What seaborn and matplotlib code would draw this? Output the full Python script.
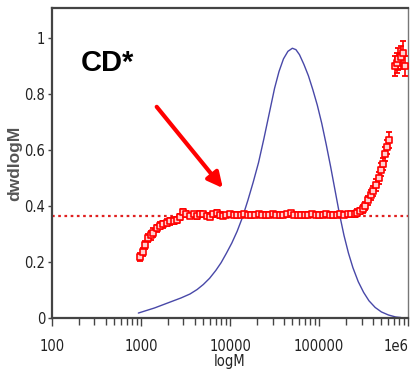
import numpy as np
import pandas as pd
import matplotlib
matplotlib.use("Agg")
import matplotlib.pyplot as plt
from matplotlib import font_manager
import matplotlib.transforms as mtransforms
import seaborn as sns
from matplotlib.ticker import FixedLocator, LogLocator, NullFormatter

# Blue distribution curve (logM, dw/dlogM)
blue_logM = [2.97, 3.05, 3.15, 3.25, 3.35, 3.45, 3.55, 3.63, 3.70, 3.77, 3.84, 3.90, 3.96,
             4.02, 4.08, 4.14, 4.20, 4.26, 4.32, 4.38, 4.44, 4.50, 4.55, 4.60, 4.65, 4.70,
             4.74, 4.78, 4.83, 4.88, 4.93, 4.98, 5.03, 5.08, 5.13, 5.18, 5.23, 5.28, 5.33,
             5.38, 5.44, 5.50, 5.56, 5.63, 5.70, 5.78, 5.86, 5.92]
blue_w = [0.018, 0.026, 0.036, 0.048, 0.060, 0.072, 0.086, 0.102, 0.120, 0.142, 0.170, 0.198, 0.232,
          0.268, 0.310, 0.360, 0.420, 0.485, 0.555, 0.640, 0.730, 0.820, 0.880, 0.925, 0.952, 0.963,
          0.958, 0.940, 0.905, 0.865, 0.815, 0.760, 0.695, 0.620, 0.540, 0.455, 0.370, 0.295, 0.232,
          0.180, 0.130, 0.092, 0.062, 0.038, 0.022, 0.011, 0.004, 0.002]

# Red measured points with error bars
red_logM = [2.99, 3.02, 3.05, 3.08, 3.11, 3.14, 3.18, 3.21, 3.25, 3.29, 3.33, 3.37, 3.40,
            3.44, 3.47, 3.51, 3.55, 3.59, 3.63, 3.66, 3.70, 3.74, 3.78, 3.81, 3.85, 3.89,
            3.92, 3.96, 4.00, 4.04, 4.08, 4.12, 4.16, 4.20, 4.24, 4.28, 4.32, 4.36, 4.40,
            4.44, 4.48, 4.52, 4.56, 4.60, 4.64, 4.68, 4.72, 4.76, 4.80, 4.84, 4.88, 4.92,
            4.96, 5.00, 5.04, 5.08, 5.12, 5.16, 5.20, 5.24, 5.28, 5.32, 5.36, 5.40, 5.43,
            5.46, 5.49, 5.52, 5.55, 5.58, 5.61, 5.64, 5.67, 5.70, 5.72, 5.74, 5.76, 5.78,
            5.85, 5.87, 5.89, 5.92, 5.94, 5.96]
red_w = [0.218, 0.236, 0.260, 0.285, 0.295, 0.305, 0.320, 0.330, 0.335, 0.340, 0.345, 0.348, 0.350,
         0.360, 0.378, 0.372, 0.366, 0.370, 0.364, 0.372, 0.370, 0.366, 0.362, 0.370, 0.375, 0.368,
         0.366, 0.368, 0.370, 0.368, 0.369, 0.368, 0.370, 0.369, 0.368, 0.369, 0.370, 0.368, 0.369,
         0.368, 0.370, 0.369, 0.368, 0.369, 0.370, 0.374, 0.369, 0.368, 0.369, 0.368, 0.369, 0.370,
         0.369, 0.368, 0.369, 0.370, 0.369, 0.368, 0.369, 0.370, 0.369, 0.370, 0.370, 0.372, 0.376,
         0.382, 0.390, 0.400, 0.420, 0.440, 0.455, 0.475, 0.500, 0.530, 0.550, 0.585, 0.610, 0.635,
         0.900, 0.910, 0.925, 0.930, 0.945, 0.900]
red_err = [0.015, 0.015, 0.015, 0.015, 0.015, 0.015, 0.012, 0.012, 0.012, 0.012, 0.012, 0.012, 0.010,
           0.010, 0.010, 0.010, 0.010, 0.010, 0.010, 0.010, 0.010, 0.010, 0.010, 0.010, 0.010, 0.010,
           0.008, 0.008, 0.008, 0.008, 0.008, 0.008, 0.008, 0.008, 0.008, 0.008, 0.008, 0.008, 0.008,
           0.008, 0.008, 0.008, 0.008, 0.008, 0.008, 0.008, 0.008, 0.008, 0.008, 0.008, 0.008, 0.008,
           0.008, 0.008, 0.008, 0.008, 0.008, 0.008, 0.008, 0.008, 0.008, 0.008, 0.010, 0.010, 0.012,
           0.012, 0.014, 0.015, 0.016, 0.018, 0.018, 0.020, 0.020, 0.022, 0.022, 0.024, 0.026, 0.028,
           0.035, 0.035, 0.040, 0.040, 0.045, 0.035]

ref_level = 0.365
x_ticks = [100, 1000, 10000, 100000, 1000000]
x_tick_labels = ["100", "1000", "10000", "100000", "1e6"]
y_ticks = [0, 0.2, 0.4, 0.6, 0.8, 1.0]
y_tick_labels = ["0", "0.2", "0.4", "0.6", "0.8", "1"]

sns.set_style("white")
plt.rcParams['font.family'] = ['Liberation Sans', 'DejaVu Sans']

# pick a narrow font file for the tick labels if one is installed
narrow_path = None
for f in font_manager.fontManager.ttflist:
    base = f.fname.split("/")[-1]
    if ("Narrow" in base or "Condensed" in base) and not any(
            k in base for k in ("Bold", "Italic", "Oblique")):
        if narrow_path is None or "Liberation" in base:
            narrow_path = f.fname
if narrow_path is not None:
    tick_font = font_manager.FontProperties(fname=narrow_path, size=10.5)
else:
    tick_font = font_manager.FontProperties(family="Liberation Sans", size=10)

fig = plt.figure(figsize=(4.16, 3.76), dpi=100)
ax = fig.add_axes([0.125, 0.154, 0.856, 0.825])

blue_df = pd.DataFrame({"M": 10 ** np.array(blue_logM), "w": blue_w})
sns.lineplot(data=blue_df, x="M", y="w", ax=ax, color="#4848a8", lw=1.0)

red_M = 10 ** np.array(red_logM)
ax.axhline(ref_level, color="#e02020", ls=(0, (1.2, 1.6)), lw=1.6, zorder=1)
ax.errorbar(red_M, red_w, yerr=red_err, fmt="none", ecolor="red", elinewidth=1.2,
            capsize=2.5, capthick=1.3, zorder=3)
red_df = pd.DataFrame({"M": red_M, "w": red_w})
sns.scatterplot(data=red_df, x="M", y="w", ax=ax, color="#ffd0d0", marker="s", s=16,
                edgecolor="red", linewidth=1.2, zorder=4)

ax.set_xscale("log")
ax.set_xlim(100, 1e6)
ax.set_ylim(0, 1.107)
ax.xaxis.set_major_locator(FixedLocator(x_ticks))
ax.set_xticklabels(x_tick_labels)
ax.xaxis.set_minor_locator(LogLocator(base=10, subs=np.arange(2, 10)))
ax.xaxis.set_minor_formatter(NullFormatter())
ax.set_yticks(y_ticks)
ax.set_yticklabels(y_tick_labels)
for lab in ax.get_xticklabels() + ax.get_yticklabels():
    lab.set_fontproperties(tick_font)
    lab.set_color("#222222")
last = ax.get_xticklabels()[-1]
last.set_ha("right")
last.set_transform(last.get_transform() + mtransforms.ScaledTranslation(5 / 100, 0, fig.dpi_scale_trans))

ax.tick_params(axis="both", which="both", bottom=True, left=True, top=False, right=False)
ax.tick_params(axis="x", which="major", direction="out", length=6, width=1, color="#444444", pad=9)
ax.tick_params(axis="x", which="minor", direction="out", length=5, width=1, color="#444444")
ax.tick_params(axis="y", which="major", direction="out", length=3, width=1, color="#444444", pad=2)

for side in ["left", "bottom", "top"]:
    ax.spines[side].set_color("#444444")
    ax.spines[side].set_linewidth(1.6)
ax.spines["right"].set_color("#777777")
ax.spines["right"].set_linewidth(1.0)

ax.set_xlabel("logM", fontproperties=tick_font, color="#222222", labelpad=0)
ax.set_ylabel("dwdlogM", fontsize=12.5, fontweight="bold", color="#555555", labelpad=1)

ax.text(210, 0.91, "CD*", fontsize=21, fontweight="bold", color="black",
        va="center", ha="left")
ax.annotate("", xy=(8300, 0.464), xytext=(1500, 0.754),
            arrowprops=dict(arrowstyle="-|>,head_length=0.9,head_width=0.45",
                            color="red", lw=3, shrinkA=0, shrinkB=0))

fig.savefig("out.png", dpi=100)
